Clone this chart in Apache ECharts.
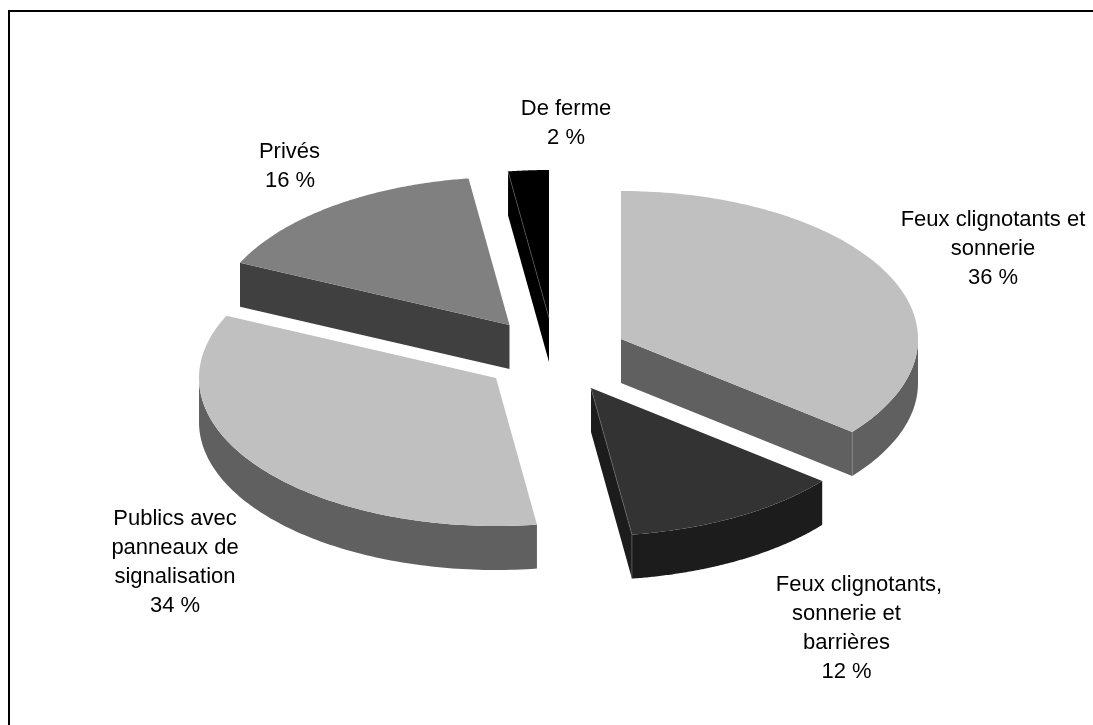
<!DOCTYPE html>
<html>
<head>
<meta charset="utf-8">
<style>html,body{margin:0;padding:0;background:#fff}#c{width:1093px;height:725px}</style>
<script src="https://cdn.jsdelivr.net/npm/echarts@6/dist/echarts.min.js"></script>
</head>
<body>
<div id="c"></div>
<script>
var categories = [['Feux clignotants et', 'sonnerie'], ['Feux clignotants,', 'sonnerie et', 'barrières'], ['Publics avec', 'panneaux de', 'signalisation'], ['Privés'], ['De ferme']];
var percents = [35.8, 12.0, 34.1, 15.9, 2.2];
var topColors = ['#c0c0c0', '#333333', '#c0c0c0', '#808080', '#000000'];
var sideColors = ['#606060', '#1c1c1c', '#606060', '#404040', '#000000'];
var seamColors = ['#8a8a8a', '#6a6a6a', null, null, '#5a5a5a'];
var apexX = [621, 591, 496, 509.5, 549];
var apexY = [339, 388, 378, 325, 318];
var labelLineX = [[993, 993, 993], [859, 846.5, 846.5, 846.5], [175, 175, 175, 175], [289.5, 290], [566, 566]];
var labelTopY = [219.5, 584.5, 519, 151.5, 109];

var RX = 297, RY = 148, DEPTH = 44, LINE = 29;
var chart = echarts.init(document.getElementById('c'), null, {renderer: 'canvas'});
var rows = percents.map(function (p, i) { return [i, p]; });

function point(cx, cy, deg) {
  var a = deg * Math.PI / 180;
  return [cx + RX * Math.sin(a), cy - RY * Math.cos(a)];
}
function renderItem(params, api) {
  var i = api.value(0), total = percents.reduce(function (s, v) { return s + v; }, 0);
  var before = 0;
  for (var k = 0; k < i; k++) before += percents[k];
  var start = before / total * 360, end = (before + api.value(1)) / total * 360;
  var cx = apexX[i], cy = apexY[i], arc = [], front = [];
  for (var d = 0; d <= 120; d++) {
    var deg = start + (end - start) * d / 120;
    arc.push(point(cx, cy, deg));
    if (deg >= 90 && deg <= 270) front.push(point(cx, cy, deg));
  }
  var low = function (p) { return [p[0], p[1] + DEPTH]; };
  var apex = [cx, cy];
  var side = {fill: sideColors[i]};
  var wall = function (pts) { return {type: 'polygon', shape: {points: pts}, style: side}; };
  var seam = function (pts) {
    return {type: 'polyline', shape: {points: pts}, style: {fill: null, stroke: seamColors[i], lineWidth: 0.7}};
  };
  var first = arc[0], last = arc[arc.length - 1];
  var children = [];
  if (front.length) children.push(wall(front.concat(front.slice().reverse().map(low))));
  if (start >= 180) children.push(wall([apex, first, low(first), low(apex)]));
  if (end <= 180) children.push(wall([apex, last, low(last), low(apex)]));
  children.push({type: 'polygon', shape: {points: [apex].concat(arc)}, style: {fill: topColors[i]}});
  if (seamColors[i]) {
    if (i === 0 || i === 1) children.push(seam([last, low(last)]));
    if (i === 1) children.push(seam([apex, last]));
    if (i === 4) children.push(seam([first, apex]));
  }
  var lines = categories[i].concat([Math.round(percents[i]) + ' %']);
  lines.forEach(function (line, j) {
    children.push({type: 'text', style: {
      x: labelLineX[i][j], y: labelTopY[i] + j * LINE, text: line,
      align: 'center', verticalAlign: 'middle', fill: '#000',
      font: '22px "Liberation Sans", Arial, sans-serif'
    }});
  });
  return {type: 'group', children: children};
}
chart.setOption({
  animation: false,
  backgroundColor: '#fff',
  graphic: [{type: 'rect', shape: {x: 9, y: 11, width: 1200, height: 900}, style: {fill: 'none', stroke: '#000', lineWidth: 2}, silent: true}],
  series: [{type: 'custom', coordinateSystem: 'none', data: rows, renderItem: renderItem, silent: true}]
});
</script>
</body>
</html>
